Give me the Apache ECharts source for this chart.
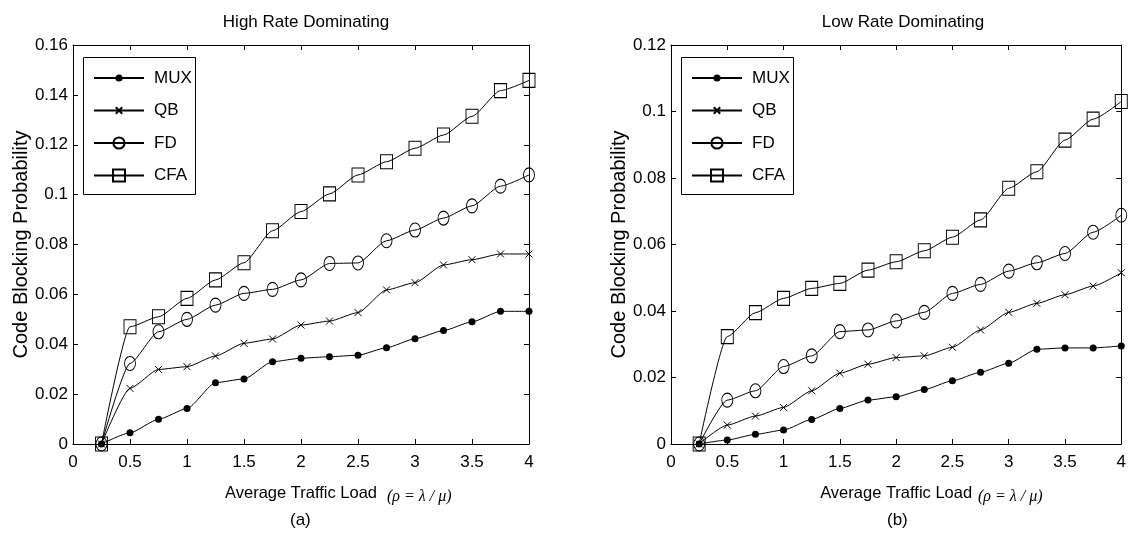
<!DOCTYPE html>
<html>
<head>
<meta charset="utf-8">
<script src="https://cdn.jsdelivr.net/npm/echarts@6/dist/echarts.min.js"></script>
<style>
  html, body { margin: 0; padding: 0; background: #fff; }
  #chart { width: 1129px; height: 533px; }
</style>
</head>
<body>
<div id="chart"></div>
<script>
// ---- data ----
const loads = [0.25, 0.5, 0.75, 1, 1.25, 1.5, 1.75, 2, 2.25, 2.5, 2.75, 3, 3.25, 3.5, 3.75, 4];
const seriesNames = ['MUX', 'QB', 'FD', 'CFA'];

// (a) High Rate Dominating
const highMUX = [0, 0.0045, 0.0099, 0.0142, 0.0246, 0.0261, 0.0330, 0.0344, 0.0350, 0.0356, 0.0386, 0.0422, 0.0455, 0.0490, 0.0532, 0.0532];
const highQB  = [0, 0.0223, 0.0299, 0.0310, 0.0353, 0.0404, 0.0421, 0.0477, 0.0493, 0.0527, 0.0618, 0.0647, 0.0718, 0.0739, 0.0762, 0.0762];
const highFD  = [0, 0.0323, 0.0450, 0.0500, 0.0557, 0.0604, 0.0620, 0.0658, 0.0724, 0.0726, 0.0815, 0.0858, 0.0906, 0.0955, 0.1034, 0.1079];
const highCFA = [0, 0.0470, 0.0510, 0.0584, 0.0658, 0.0727, 0.0855, 0.0932, 0.1003, 0.1079, 0.1132, 0.1186, 0.1239, 0.1314, 0.1417, 0.1458];

// (b) Low Rate Dominating
const lowMUX = [0, 0.0012, 0.0029, 0.0042, 0.0074, 0.0107, 0.0132, 0.0142, 0.0164, 0.0190, 0.0216, 0.0243, 0.0285, 0.0289, 0.0289, 0.0295];
const lowQB  = [0, 0.0057, 0.0084, 0.0110, 0.0160, 0.0213, 0.0240, 0.0260, 0.0265, 0.0291, 0.0343, 0.0396, 0.0423, 0.0449, 0.0475, 0.0515];
const lowFD  = [0, 0.0132, 0.0160, 0.0233, 0.0265, 0.0338, 0.0343, 0.0370, 0.0396, 0.0453, 0.0480, 0.0520, 0.0545, 0.0573, 0.0637, 0.0688];
const lowCFA = [0, 0.0323, 0.0395, 0.0438, 0.0468, 0.0483, 0.0523, 0.0548, 0.0581, 0.0622, 0.0674, 0.0769, 0.0819, 0.0914, 0.0977, 0.1030];

const titles = ['High Rate Dominating', 'Low Rate Dominating'];
const panelLabels = ['(a)', '(b)'];
const xMin = 0, xMax = 4, xStep = 0.5;
const yMaxes = [0.16, 0.12];
const yStep = 0.02;
const xTitle = 'Average Traffic Load';
const xFormula = '(\u03C1 = \u03BB / \u03BC)';
const yTitle = 'Code Blocking Probability';

// ---- styling ----
const FONT = '"Liberation Sans", Arial, Helvetica, sans-serif';
const markers = {
  MUX: { symbol: 'circle', size: 7, legendH: 9, itemStyle: { color: '#000', borderColor: '#000', borderWidth: 0 } },
  QB:  { symbol: 'path://M0,0L10,10M10,0L0,10', size: 7, legendH: 8, itemStyle: { color: 'rgba(0,0,0,0)', borderColor: '#000', borderWidth: 1 } },
  FD:  { symbol: 'path://M50,0A50,50,0,1,1,50,100A50,50,0,1,1,50,0Z', size: [11, 14], legendH: 14, itemStyle: { color: 'rgba(0,0,0,0)', borderColor: '#000', borderWidth: 1 } },
  CFA: { symbol: 'rect', size: [12, 14], legendH: 15, itemStyle: { color: 'rgba(0,0,0,0)', borderColor: '#000', borderWidth: 1 } }
};

const grids = [
  { left: 73, right: 600, top: 45, bottom: 89 },
  { left: 671, right: 4, top: 45, bottom: 89 }
];
const panelCenters = [301, 898];
const legendRowCenters = [77, 109.5, 142, 174.5];

const chart = echarts.init(document.getElementById('chart'), null, { renderer: 'canvas' });

const xAxes = [], yAxes = [], series = [], legends = [], titleArr = [], graphics = [];
const tickCommon = { show: true, inside: true, length: 5, lineStyle: { color: '#000', width: 1 } };
const lineCommon = { show: true, onZero: false, lineStyle: { color: '#000', width: 1 } };

[0, 1].forEach(function (p) {
  xAxes.push({
    type: 'value', gridIndex: p, min: xMin, max: xMax, interval: xStep, position: 'bottom',
    axisLine: lineCommon, axisTick: tickCommon, splitLine: { show: false },
    axisLabel: { color: '#000', fontSize: 17, fontFamily: FONT, margin: 10 },
    name: xTitle, nameLocation: 'middle', nameGap: 41,
    nameTextStyle: { color: '#000', fontSize: 16.5, fontFamily: FONT }
  });
  xAxes.push({
    type: 'value', gridIndex: p, min: xMin, max: xMax, interval: xStep, position: 'top',
    axisLine: lineCommon, axisTick: tickCommon, splitLine: { show: false },
    axisLabel: { show: false }
  });
  yAxes.push({
    type: 'value', gridIndex: p, min: 0, max: yMaxes[p], interval: yStep, position: 'left',
    axisLine: lineCommon, axisTick: tickCommon, splitLine: { show: false },
    axisLabel: { color: '#000', fontSize: 17, fontFamily: FONT, margin: 5 },
    name: yTitle, nameLocation: 'middle', nameGap: 42,
    nameTextStyle: { color: '#000', fontSize: 20, fontFamily: FONT }
  });
  yAxes.push({
    type: 'value', gridIndex: p, min: 0, max: yMaxes[p], interval: yStep, position: 'right',
    axisLine: lineCommon, axisTick: tickCommon, splitLine: { show: false },
    axisLabel: { show: false }
  });

  const dataSets = p === 0 ? [highMUX, highQB, highFD, highCFA] : [lowMUX, lowQB, lowFD, lowCFA];
  seriesNames.forEach(function (name, i) {
    const m = markers[name];
    series.push({
      name: name, type: 'line', xAxisIndex: p * 2, yAxisIndex: p * 2,
      data: loads.map(function (x, k) { return [x, dataSets[i][k]]; }),
      symbol: m.symbol, symbolSize: m.size, showAllSymbol: true,
      itemStyle: m.itemStyle,
      lineStyle: { color: '#000', width: 1 },
      smooth: 0.2, smoothMonotone: 'x',
      animation: false, z: 2 + i, clip: false
    });
    legends.push({
      orient: 'vertical', left: grids[p].left + 20,
      top: legendRowCenters[i] - Math.max(m.legendH, 15) / 2,
      data: [name], padding: 0, itemGap: 0, itemWidth: 50, itemHeight: m.legendH,
      selectedMode: false, z: 6,
      textStyle: { color: '#000', fontSize: 17, fontFamily: FONT, padding: [0, 0, 0, 5] }
    });
  });

  graphics.push({
    type: 'rect', left: grids[p].left + 10, top: 57, z: 5, silent: true,
    shape: { width: 112, height: 137 },
    style: { fill: '#fff', stroke: '#000', lineWidth: 1 }
  });

  titleArr.push({
    text: titles[p], left: panelCenters[p], top: 9, textAlign: 'center',
    textStyle: { color: '#000', fontSize: 17, fontWeight: 'normal', fontFamily: FONT }
  });

  graphics.push({
    type: 'text', left: panelCenters[p] + (p === 0 ? 86 : 80), top: 489, silent: true,
    style: { text: xFormula, fill: '#000', font: 'italic 16px "Liberation Serif", "Times New Roman", serif' }
  });
  graphics.push({
    type: 'text', left: panelCenters[p] - 11, top: 512, silent: true,
    style: { text: panelLabels[p], fill: '#000', font: '17px ' + FONT }
  });
});

chart.setOption({
  animation: false,
  backgroundColor: '#fff',
  textStyle: { fontFamily: FONT },
  title: titleArr,
  grid: grids,
  xAxis: xAxes,
  yAxis: yAxes,
  legend: legends,
  series: series,
  graphic: graphics
});
</script>
</body>
</html>
